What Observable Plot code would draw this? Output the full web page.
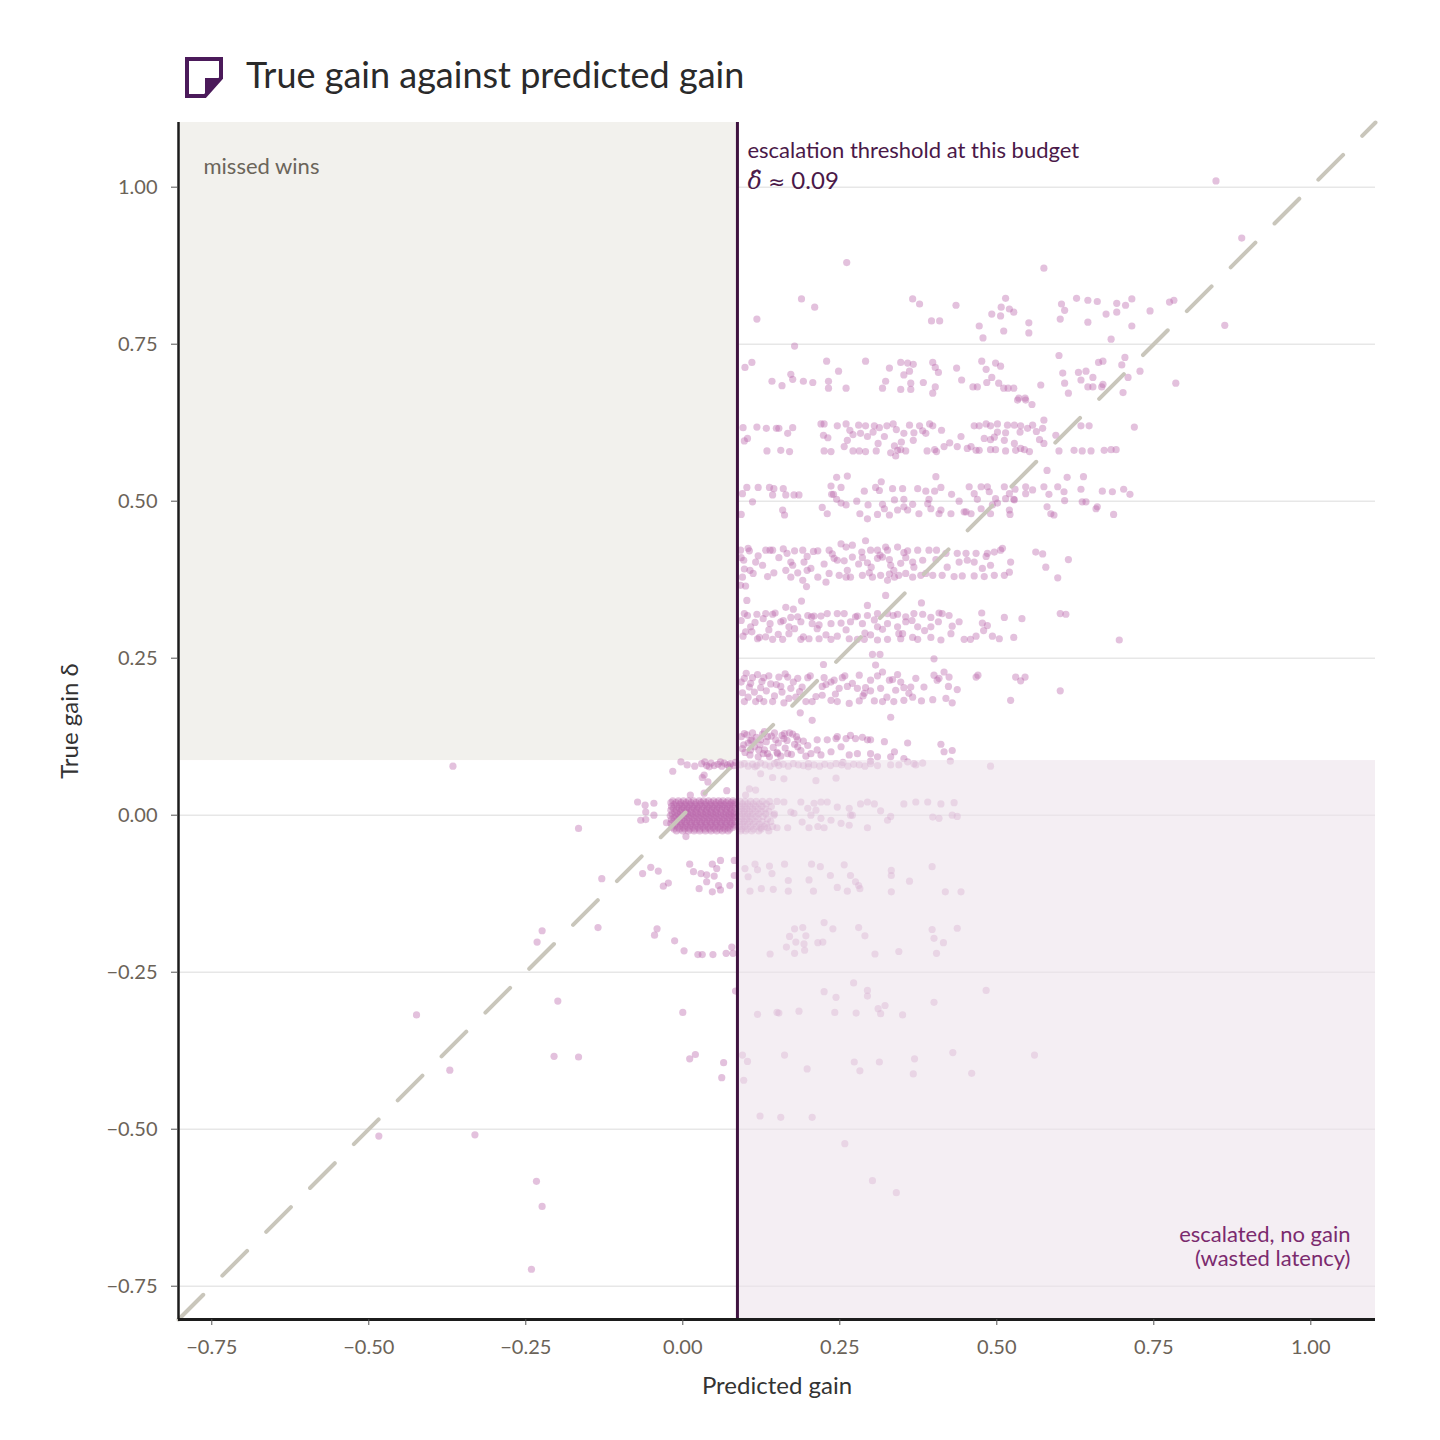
<!DOCTYPE html>
<html><head><meta charset="utf-8">
<script src="https://cdn.jsdelivr.net/npm/d3@7"></script>
<script src="https://cdn.jsdelivr.net/npm/@observablehq/plot@0.6"></script>
<style>
body{margin:0;background:#fff;font-family:Lato,"Noto Sans",sans-serif;}
#head{display:block}
</style></head><body>
<svg id="head" width="1440" height="110" xmlns="http://www.w3.org/2000/svg">
  <path d="M187,59 H221 V78 L205,96 H187 Z" fill="none" stroke="#4b1a5a" stroke-width="4" stroke-linejoin="miter"/>
  <path d="M221,78 L205,78 L205,96 Z" fill="#4b1a5a"/>
  <text id="title" x="246" y="88" font-family="Lato, sans-serif" font-size="36" fill="#2a2a2a">True gain against predicted gain</text>
</svg>
<div id="chart"></div>
<script>
// ---------- axis ticks / annotation values ----------
const xTicks = [-0.75, -0.5, -0.25, 0, 0.25, 0.5, 0.75, 1.0];
const yTicks = [-0.75, -0.5, -0.25, 0, 0.25, 0.5, 0.75, 1.0];
const threshold = 0.087;
const axisMin = -0.803, axisMax = 1.103;
const regionMissed = [{x1: axisMin, x2: threshold, y1: threshold, y2: axisMax}];
const regionWasted = [{x1: threshold, x2: axisMax, y1: axisMin, y2: threshold}];
const diagonal = [[axisMin, axisMin], [axisMax, axisMax]];

// ---------- points [predicted gain, true gain] ----------
const band80 = [[0.849,1.01],[0.89,0.919],[0.261,0.88],[0.575,0.871],[0.118,0.79],[0.189,0.822],[0.21,0.809],[0.178,0.747],[0.366,0.822],[0.377,0.814],[0.396,0.787],[0.409,0.787],[0.435,0.812],[0.472,0.779],[0.478,0.76],[0.492,0.798],[0.506,0.795],[0.507,0.809],[0.514,0.823],[0.52,0.806],[0.527,0.801],[0.511,0.771],[0.551,0.784],[0.551,0.768],[0.601,0.79],[0.603,0.814],[0.608,0.804],[0.627,0.823],[0.645,0.82],[0.645,0.785],[0.66,0.818],[0.674,0.798],[0.682,0.758],[0.691,0.815],[0.691,0.801],[0.705,0.812],[0.715,0.822],[0.715,0.779],[0.744,0.803],[0.775,0.817],[0.782,0.82],[0.863,0.78]];

const band70 = [[0.099,0.713],[0.11,0.721],[0.142,0.691],[0.158,0.684],[0.172,0.702],[0.175,0.694],[0.192,0.691],[0.207,0.689],[0.229,0.723],[0.232,0.691],[0.232,0.68],[0.248,0.707],[0.26,0.68],[0.291,0.723],[0.318,0.68],[0.323,0.691],[0.329,0.712],[0.347,0.721],[0.347,0.678],[0.352,0.701],[0.358,0.72],[0.361,0.707],[0.363,0.688],[0.363,0.678],[0.367,0.718],[0.383,0.689],[0.398,0.672],[0.398,0.721],[0.402,0.713],[0.402,0.682],[0.407,0.705],[0.436,0.712],[0.444,0.693],[0.462,0.682],[0.469,0.682],[0.476,0.723],[0.483,0.71],[0.484,0.689],[0.492,0.697],[0.498,0.72],[0.503,0.688],[0.506,0.715],[0.511,0.68],[0.518,0.68],[0.527,0.68],[0.535,0.664],[0.545,0.664],[0.57,0.685],[0.599,0.732],[0.605,0.704],[0.608,0.688],[0.614,0.672],[0.63,0.705],[0.634,0.693],[0.642,0.707],[0.645,0.682],[0.653,0.682],[0.653,0.697],[0.662,0.721],[0.669,0.723],[0.667,0.682],[0.669,0.686],[0.699,0.717],[0.704,0.729],[0.709,0.697],[0.701,0.673],[0.728,0.707],[0.785,0.688],[0.533,0.661],[0.546,0.661],[0.556,0.654]];

const band60 = [[0.096,0.617],[0.098,0.596],[0.118,0.618],[0.133,0.616],[0.149,0.616],[0.153,0.616],[0.175,0.617],[0.167,0.608],[0.103,0.6],[0.22,0.623],[0.225,0.623],[0.224,0.605],[0.231,0.601],[0.246,0.62],[0.26,0.623],[0.262,0.597],[0.266,0.613],[0.271,0.606],[0.28,0.621],[0.283,0.608],[0.291,0.62],[0.294,0.603],[0.303,0.61],[0.305,0.62],[0.311,0.592],[0.313,0.617],[0.321,0.603],[0.325,0.62],[0.335,0.623],[0.337,0.588],[0.34,0.614],[0.348,0.594],[0.352,0.608],[0.361,0.621],[0.367,0.597],[0.368,0.609],[0.377,0.62],[0.382,0.612],[0.387,0.608],[0.393,0.623],[0.398,0.62],[0.412,0.613],[0.416,0.587],[0.425,0.593],[0.437,0.587],[0.443,0.603],[0.459,0.587],[0.464,0.62],[0.472,0.62],[0.48,0.6],[0.483,0.623],[0.49,0.598],[0.49,0.62],[0.496,0.602],[0.501,0.623],[0.501,0.61],[0.512,0.597],[0.514,0.609],[0.517,0.621],[0.528,0.592],[0.528,0.621],[0.537,0.61],[0.538,0.62],[0.549,0.616],[0.557,0.621],[0.563,0.611],[0.568,0.598],[0.573,0.616],[0.575,0.629],[0.575,0.592],[0.594,0.605],[0.634,0.62],[0.647,0.62],[0.719,0.618],
[0.134,0.58],[0.156,0.581],[0.17,0.579],[0.225,0.58],[0.236,0.579],[0.257,0.587],[0.271,0.58],[0.281,0.58],[0.291,0.579],[0.308,0.58],[0.331,0.577],[0.339,0.572],[0.342,0.581],[0.347,0.582],[0.355,0.58],[0.389,0.58],[0.401,0.582],[0.404,0.579],[0.453,0.584],[0.467,0.581],[0.472,0.581],[0.49,0.582],[0.498,0.582],[0.514,0.58],[0.53,0.581],[0.538,0.584],[0.544,0.582],[0.552,0.579],[0.599,0.58],[0.623,0.581],[0.636,0.58],[0.65,0.58],[0.671,0.581],[0.682,0.582],[0.69,0.582]];

const band50 = [[0.245,0.538],[0.262,0.54],[0.316,0.531],[0.403,0.539],[0.102,0.522],[0.12,0.522],[0.138,0.522],[0.143,0.51],[0.145,0.52],[0.16,0.52],[0.164,0.51],[0.177,0.51],[0.185,0.51],[0.236,0.524],[0.237,0.511],[0.252,0.522],[0.289,0.516],[0.307,0.522],[0.313,0.517],[0.334,0.52],[0.35,0.52],[0.374,0.52],[0.387,0.516],[0.401,0.516],[0.093,0.479],[0.095,0.512],[0.111,0.499],[0.159,0.486],[0.162,0.478],[0.222,0.49],[0.23,0.48],[0.24,0.511],[0.245,0.503],[0.252,0.497],[0.26,0.494],[0.277,0.5],[0.282,0.48],[0.295,0.494],[0.294,0.472],[0.31,0.479],[0.318,0.495],[0.321,0.488],[0.329,0.478],[0.337,0.502],[0.342,0.486],[0.352,0.503],[0.352,0.491],[0.358,0.486],[0.366,0.495],[0.376,0.48],[0.39,0.496],[0.392,0.503],[0.395,0.488],[0.408,0.48],
[0.411,0.522],[0.428,0.511],[0.456,0.523],[0.464,0.512],[0.475,0.523],[0.485,0.523],[0.488,0.515],[0.498,0.504],[0.512,0.523],[0.52,0.512],[0.529,0.519],[0.527,0.503],[0.546,0.523],[0.546,0.512],[0.557,0.518],[0.575,0.523],[0.583,0.511],[0.597,0.523],[0.607,0.515],[0.608,0.501],[0.634,0.519],[0.636,0.499],[0.642,0.499],[0.668,0.516],[0.684,0.515],[0.702,0.519],[0.712,0.511],[0.58,0.549],[0.612,0.538],[0.638,0.539],
[0.411,0.486],[0.427,0.48],[0.451,0.483],[0.459,0.48],[0.475,0.488],[0.49,0.48],[0.493,0.494],[0.52,0.486],[0.521,0.479],[0.58,0.491],[0.586,0.48],[0.591,0.478],[0.658,0.488],[0.66,0.491],[0.686,0.479],[0.44,0.5],[0.448,0.483],[0.469,0.503],[0.501,0.497],[0.514,0.504],[0.528,0.502]];

const band40 = [[0.092,0.422],[0.106,0.421],[0.132,0.422],[0.139,0.422],[0.143,0.422],[0.166,0.417],[0.178,0.421],[0.191,0.422],[0.215,0.421],[0.233,0.422],[0.238,0.416],[0.252,0.432],[0.26,0.427],[0.27,0.43],[0.285,0.419],[0.291,0.437],[0.299,0.422],[0.31,0.422],[0.314,0.414],[0.323,0.427],[0.326,0.422],[0.342,0.427],[0.352,0.418],[0.358,0.421],[0.374,0.422],[0.392,0.422],[0.404,0.422],
[0.097,0.406],[0.116,0.403],[0.172,0.403],[0.175,0.398],[0.198,0.412],[0.193,0.403],[0.241,0.409],[0.246,0.406],[0.257,0.405],[0.27,0.411],[0.286,0.41],[0.294,0.402],[0.31,0.409],[0.318,0.411],[0.329,0.407],[0.331,0.398],[0.347,0.401],[0.366,0.403],[0.368,0.395],[0.382,0.406],[0.403,0.407],
[0.095,0.379],[0.092,0.366],[0.107,0.39],[0.145,0.386],[0.164,0.39],[0.172,0.379],[0.183,0.386],[0.191,0.374],[0.198,0.39],[0.204,0.393],[0.215,0.379],[0.228,0.371],[0.233,0.385],[0.249,0.382],[0.26,0.379],[0.267,0.379],[0.286,0.382],[0.297,0.386],[0.302,0.379],[0.315,0.382],[0.326,0.374],[0.329,0.384],[0.337,0.379],[0.344,0.382],[0.355,0.385],[0.366,0.379],[0.379,0.382],[0.387,0.385],[0.398,0.382],[0.1,0.365],[0.197,0.364],
[0.419,0.417],[0.437,0.417],[0.451,0.417],[0.467,0.417],[0.483,0.412],[0.485,0.417],[0.496,0.419],[0.506,0.422],[0.509,0.425],[0.522,0.403],[0.52,0.387],[0.562,0.419],[0.573,0.416],[0.578,0.395],[0.614,0.407],[0.597,0.378],[0.421,0.395],[0.44,0.403],[0.453,0.406],[0.464,0.403],[0.432,0.38],[0.445,0.381],[0.464,0.381],[0.48,0.38],[0.496,0.382],[0.512,0.382],[0.49,0.398],[0.413,0.382],[0.477,0.393],
[0.093,0.41],[0.098,0.392],[0.104,0.425],[0.112,0.385],[0.12,0.413],[0.127,0.398],[0.135,0.38],[0.153,0.41],[0.16,0.424],[0.208,0.42],[0.225,0.4],[0.262,0.39],[0.28,0.4],[0.3,0.395],[0.336,0.39],[0.355,0.41]];

const band30 = [[0.098,0.321],[0.118,0.32],[0.132,0.321],[0.143,0.32],[0.172,0.315],[0.183,0.316],[0.199,0.318],[0.209,0.317],[0.22,0.317],[0.23,0.321],[0.246,0.321],[0.257,0.321],[0.278,0.317],[0.294,0.318],[0.31,0.321],[0.326,0.321],[0.342,0.32],[0.355,0.316],[0.368,0.321],[0.382,0.32],[0.395,0.315],[0.408,0.322],
[0.108,0.3],[0.139,0.305],[0.156,0.308],[0.169,0.3],[0.188,0.308],[0.206,0.305],[0.217,0.303],[0.236,0.305],[0.252,0.306],[0.267,0.308],[0.286,0.305],[0.305,0.311],[0.31,0.3],[0.326,0.305],[0.342,0.3],[0.355,0.308],[0.374,0.3],[0.395,0.3],[0.407,0.308],
[0.1,0.292],[0.119,0.281],[0.132,0.284],[0.143,0.28],[0.159,0.28],[0.169,0.289],[0.188,0.28],[0.201,0.281],[0.217,0.281],[0.236,0.28],[0.246,0.285],[0.265,0.281],[0.278,0.28],[0.289,0.28],[0.299,0.287],[0.31,0.279],[0.326,0.28],[0.344,0.289],[0.347,0.281],[0.366,0.283],[0.374,0.28],[0.395,0.283],
[0.102,0.342],[0.164,0.331],[0.189,0.341],[0.176,0.328],[0.294,0.334],[0.323,0.35],[0.38,0.338],[0.302,0.256],[0.314,0.256],[0.307,0.239],[0.4,0.249],[0.224,0.24],
[0.413,0.321],[0.424,0.318],[0.44,0.308],[0.429,0.301],[0.427,0.289],[0.411,0.279],[0.448,0.28],[0.458,0.28],[0.467,0.285],[0.476,0.322],[0.477,0.306],[0.485,0.302],[0.479,0.294],[0.493,0.285],[0.504,0.281],[0.512,0.315],[0.527,0.283],[0.54,0.313],[0.601,0.321],[0.61,0.32],[0.695,0.279],
[0.093,0.31],[0.096,0.285],[0.103,0.318],[0.11,0.292],[0.115,0.307],[0.122,0.283],[0.128,0.313],[0.137,0.295],[0.147,0.322],[0.152,0.288],[0.16,0.31],[0.178,0.297],[0.192,0.284],[0.205,0.316],[0.214,0.297],[0.228,0.287],[0.26,0.295],[0.275,0.316],[0.29,0.29],[0.318,0.296],[0.335,0.318],[0.35,0.289],[0.365,0.31],[0.385,0.294]];

const band20 = [[0.098,0.218],[0.111,0.219],[0.129,0.219],[0.153,0.22],[0.167,0.22],[0.183,0.218],[0.199,0.219],[0.225,0.219],[0.241,0.215],[0.254,0.219],[0.281,0.223],[0.299,0.215],[0.318,0.228],[0.334,0.216],[0.347,0.212],[0.371,0.218],[0.4,0.223],[0.408,0.218],
[0.106,0.204],[0.124,0.203],[0.14,0.209],[0.156,0.205],[0.172,0.202],[0.19,0.204],[0.222,0.205],[0.236,0.212],[0.249,0.202],[0.262,0.205],[0.278,0.202],[0.291,0.203],[0.299,0.198],[0.329,0.215],[0.339,0.199],[0.352,0.203],[0.363,0.204],[0.384,0.204],[0.405,0.215],[0.315,0.202],
[0.098,0.181],[0.116,0.181],[0.129,0.181],[0.143,0.181],[0.161,0.179],[0.18,0.188],[0.196,0.181],[0.206,0.181],[0.222,0.191],[0.236,0.183],[0.246,0.181],[0.265,0.178],[0.281,0.182],[0.289,0.194],[0.305,0.182],[0.318,0.181],[0.336,0.181],[0.352,0.183],[0.366,0.188],[0.38,0.182],[0.398,0.184],
[0.331,0.156],[0.187,0.163],[0.206,0.151],
[0.416,0.228],[0.424,0.22],[0.423,0.205],[0.437,0.2],[0.419,0.186],[0.429,0.179],[0.467,0.22],[0.47,0.223],[0.53,0.22],[0.538,0.214],[0.545,0.22],[0.601,0.198],[0.522,0.183],
[0.093,0.212],[0.095,0.195],[0.101,0.226],[0.104,0.188],[0.108,0.21],[0.114,0.196],[0.119,0.224],[0.122,0.186],[0.126,0.213],[0.133,0.198],[0.137,0.222],[0.146,0.19],[0.149,0.208],[0.158,0.196],[0.163,0.225],[0.169,0.186],[0.176,0.212],[0.186,0.197],[0.203,0.222],[0.212,0.189],[0.228,0.208],[0.243,0.193],[0.258,0.222],[0.27,0.21],[0.287,0.19],[0.31,0.222],[0.325,0.188],[0.342,0.224],[0.36,0.194]];

const band10 = [[0.098,0.13],[0.108,0.119],[0.124,0.12],[0.135,0.125],[0.148,0.12],[0.161,0.122],[0.175,0.129],[0.183,0.12],[0.199,0.111],[0.214,0.12],[0.23,0.12],[0.244,0.122],[0.26,0.122],[0.275,0.122],[0.294,0.12],[0.299,0.12],[0.321,0.117],[0.358,0.115],[0.337,0.101],[0.411,0.113],[0.416,0.101],[0.429,0.103],
[0.095,0.106],[0.108,0.104],[0.121,0.104],[0.135,0.098],[0.151,0.098],[0.167,0.098],[0.183,0.109],[0.204,0.098],[0.22,0.096],[0.236,0.101],[0.252,0.109],[0.265,0.096],[0.278,0.098],[0.299,0.098],[0.31,0.093],[0.331,0.093],[0.352,0.09],[0.214,0.104],
[0.13,0.133],[0.246,0.125],[0.267,0.127],[0.286,0.124],
[0.093,0.125],[0.097,0.112],[0.102,0.128],[0.104,0.115],[0.107,0.096],[0.111,0.131],[0.114,0.109],[0.117,0.124],[0.12,0.093],[0.123,0.112],[0.127,0.129],[0.13,0.104],[0.133,0.117],[0.138,0.093],[0.141,0.126],[0.144,0.108],[0.146,0.131],[0.152,0.115],[0.156,0.094],[0.158,0.127],[0.163,0.107],[0.166,0.119],[0.17,0.131],[0.173,0.097],[0.178,0.113],[0.181,0.125],[0.188,0.103],[0.192,0.118],[0.196,0.094],[0.099,0.1],[0.11,0.12],[0.128,0.098],[0.15,0.1],[0.162,0.13]];

const band08 = [[-0.366,0.078],[-0.003,0.085],[0.007,0.08],[0.019,0.078],[0.03,0.082],[0.038,0.079],[0.045,0.083],[0.05,0.079],[0.056,0.081],[0.062,0.078],[0.066,0.083],[0.071,0.08],[0.076,0.082],[0.081,0.079],[0.084,0.084],[0.042,0.077],[0.06,0.085],[0.074,0.077],[0.035,0.085],
[0.092,0.08],[0.098,0.082],[0.104,0.078],[0.111,0.081],[0.118,0.079],[0.124,0.083],[0.131,0.08],[0.139,0.078],[0.146,0.082],[0.153,0.079],[0.16,0.081],[0.168,0.078],[0.176,0.082],[0.184,0.08],[0.192,0.079],[0.2,0.082],[0.209,0.08],[0.218,0.078],[0.226,0.081],[0.235,0.079],[0.244,0.082],[0.253,0.08],[0.263,0.078],[0.272,0.081],[0.281,0.08],[0.29,0.078],[0.299,0.082],[0.31,0.079],[0.331,0.08],[0.344,0.08],[0.368,0.082],[0.382,0.083],[0.371,0.08],[0.426,0.086],[0.299,0.086],[0.358,0.085],[0.115,0.077],[0.15,0.084],[0.2,0.077],[0.255,0.084],[0.49,0.078],
[0.124,0.066],[0.143,0.06],[0.161,0.058],[0.212,0.055],[0.244,0.059],[0.106,0.042],[0.116,0.04],[0.1,0.032],
[-0.016,0.07],[0.034,0.064],[0.04,0.053],[0.031,0.06],[0.07,0.039],[0.034,0.035]];

// dense block around zero gain, left of the threshold: [true gain, predicted gains]
const blobLeftRows = [
[0.023,[-0.016,-0.007,0.001,0.009,0.017,0.026,0.033,0.041,0.049,0.057,0.064,0.072,0.080]],
[0.020,[-0.019,-0.011,-0.003,0.005,0.013,0.021,0.029,0.037,0.045,0.053,0.061,0.069,0.077,0.083]],
[0.017,[-0.014,-0.005,0.003,0.011,0.019,0.027,0.035,0.043,0.051,0.059,0.066,0.074,0.081]],
[0.014,[-0.018,-0.009,-0.001,0.007,0.015,0.023,0.031,0.039,0.047,0.055,0.063,0.071,0.079]],
[0.011,[-0.015,-0.006,0.002,0.010,0.018,0.025,0.034,0.042,0.050,0.058,0.067,0.075,0.083]],
[0.008,[-0.019,-0.010,-0.002,0.006,0.014,0.022,0.030,0.038,0.046,0.054,0.062,0.070,0.078]],
[0.005,[-0.013,-0.004,0.004,0.012,0.020,0.028,0.036,0.044,0.052,0.060,0.068,0.076,0.082]],
[0.002,[-0.017,-0.008,0.000,0.008,0.016,0.024,0.032,0.040,0.048,0.056,0.065,0.073,0.080]],
[-0.001,[-0.020,-0.011,-0.003,0.005,0.013,0.021,0.029,0.037,0.045,0.053,0.061,0.069,0.077,0.083]],
[-0.004,[-0.014,-0.006,0.002,0.010,0.018,0.026,0.034,0.042,0.050,0.058,0.066,0.074,0.081]],
[-0.007,[-0.018,-0.009,-0.001,0.007,0.015,0.023,0.031,0.039,0.047,0.055,0.063,0.071,0.079]],
[-0.010,[-0.015,-0.005,0.003,0.011,0.019,0.027,0.035,0.043,0.051,0.059,0.067,0.075,0.083]],
[-0.013,[-0.019,-0.010,-0.002,0.006,0.014,0.022,0.030,0.038,0.046,0.054,0.062,0.070,0.078]],
[-0.016,[-0.013,-0.004,0.004,0.012,0.020,0.028,0.036,0.044,0.052,0.060,0.068,0.076,0.082]],
[-0.019,[-0.017,-0.008,0.000,0.008,0.016,0.024,0.032,0.040,0.048,0.056,0.064,0.072,0.080]],
[-0.022,[-0.014,-0.005,0.003,0.011,0.019,0.027,0.035,0.043,0.051,0.059,0.067,0.075]],
[-0.025,[-0.010,0.000,0.009,0.018,0.027,0.036,0.045,0.054,0.063,0.072]]];

// dense block around zero gain, just right of the threshold
const blobRightRows = [
[0.022,[0.091,0.099,0.108,0.117,0.127,0.138,0.15]],
[0.018,[0.095,0.103,0.112,0.122,0.133]],
[0.014,[0.091,0.099,0.107,0.116,0.126,0.141]],
[0.010,[0.094,0.102,0.111,0.12,0.131]],
[0.006,[0.091,0.098,0.106,0.115,0.125,0.137]],
[0.002,[0.095,0.103,0.111,0.121,0.132,0.146]],
[-0.002,[0.091,0.099,0.107,0.117,0.128]],
[-0.006,[0.094,0.102,0.11,0.12,0.135]],
[-0.010,[0.091,0.098,0.106,0.115,0.126,0.14]],
[-0.014,[0.095,0.103,0.112,0.122,0.133]],
[-0.018,[0.091,0.099,0.108,0.118,0.13,0.143]],
[-0.022,[0.094,0.103,0.113,0.125]],
[-0.025,[0.092,0.1,0.11,0.121,0.137]]];

const band00 = [[-0.072,0.021],[-0.06,0.016],[-0.046,0.019],[-0.059,0.005],[-0.059,-0.007],[-0.046,0.0],[-0.026,-0.012],[0.005,-0.034],[-0.067,-0.008],[0.012,0.032],[-0.166,-0.021],
[0.161,0.021],[0.172,0.005],[0.188,0.021],[0.199,0.011],[0.209,0.019],[0.22,0.021],[0.23,0.021],[0.246,0.013],[0.265,0.011],[0.27,0.0],[0.283,0.018],[0.294,0.021],[0.305,0.018],[0.315,0.007],[0.331,-0.002],[0.352,0.018],[0.371,0.021],[0.39,0.021],[0.411,0.018],[0.432,0.02],[0.398,-0.003],[0.408,-0.005],[0.429,0.0],[0.437,-0.002],[0.15,-0.02],[0.167,-0.02],[0.19,-0.011],[0.201,-0.02],[0.215,-0.018],[0.225,-0.02],[0.236,-0.008],[0.252,-0.013],[0.265,-0.016],[0.294,-0.02],[0.326,-0.008],[0.204,0.0],[0.22,-0.005],[0.212,0.008],[0.267,0.0],[0.177,0.003],[0.145,0.0],[0.135,-0.02],[0.124,-0.02]];

const bandNeg = [[-0.129,-0.101],[-0.064,-0.093],[-0.051,-0.083],[-0.039,-0.089],[-0.031,-0.113],[-0.023,-0.108],[0.011,-0.078],[0.017,-0.09],[0.029,-0.093],[0.038,-0.095],[0.047,-0.078],[0.054,-0.085],[0.05,-0.097],[0.06,-0.072],[0.038,-0.106],[0.057,-0.112],[0.026,-0.117],[0.047,-0.122],[0.06,-0.119],[0.075,-0.112],[0.082,-0.096],[0.082,-0.072],
[0.099,-0.085],[0.104,-0.098],[0.115,-0.078],[0.119,-0.087],[0.138,-0.081],[0.142,-0.093],[0.162,-0.078],[0.168,-0.104],[0.205,-0.078],[0.201,-0.103],[0.219,-0.082],[0.235,-0.096],[0.257,-0.079],[0.267,-0.096],[0.275,-0.106],[0.28,-0.112],[0.332,-0.088],[0.332,-0.096],[0.361,-0.105],[0.397,-0.082],[0.107,-0.121],[0.125,-0.117],[0.144,-0.118],[0.168,-0.121],[0.208,-0.121],[0.246,-0.115],[0.262,-0.121],[0.282,-0.117],[0.332,-0.122],[0.418,-0.122],[0.443,-0.122],
[-0.224,-0.184],[-0.232,-0.202],[-0.135,-0.179],[-0.041,-0.181],[-0.045,-0.191],[-0.013,-0.2],[0.002,-0.216],[0.024,-0.222],[0.031,-0.222],[0.048,-0.222],[0.069,-0.22],[0.078,-0.21],[0.08,-0.22],[0.139,-0.221],[0.165,-0.21],[0.17,-0.193],[0.178,-0.181],[0.18,-0.202],[0.191,-0.179],[0.196,-0.192],[0.193,-0.205],[0.194,-0.215],[0.178,-0.22],[0.215,-0.203],[0.223,-0.202],[0.225,-0.171],[0.239,-0.181],[0.28,-0.179],[0.29,-0.192],[0.306,-0.221],[0.344,-0.217],[0.397,-0.182],[0.4,-0.196],[0.415,-0.203],[0.404,-0.22],[0.437,-0.18],
[-0.424,-0.318],[-0.199,-0.296],[0.0,-0.314],[0.084,-0.28],[0.119,-0.317],[0.15,-0.314],[0.153,-0.315],[0.185,-0.312],[0.225,-0.281],[0.244,-0.29],[0.242,-0.314],[0.272,-0.267],[0.276,-0.315],[0.294,-0.279],[0.294,-0.288],[0.311,-0.308],[0.315,-0.316],[0.322,-0.303],[0.35,-0.318],[0.4,-0.298],[0.483,-0.279],
[-0.205,-0.384],[-0.166,-0.385],[0.011,-0.388],[0.02,-0.381],[0.065,-0.394],[0.062,-0.418],[-0.371,-0.406],[0.095,-0.382],[0.103,-0.392],[0.097,-0.422],[0.162,-0.382],[0.198,-0.404],[0.273,-0.393],[0.282,-0.407],[0.313,-0.393],[0.369,-0.388],[0.367,-0.412],[0.43,-0.378],[0.46,-0.411],[0.56,-0.382],
[0.123,-0.479],[0.156,-0.481],[0.206,-0.481],[-0.331,-0.509],[-0.484,-0.511],[0.258,-0.523],[-0.233,-0.583],[-0.224,-0.623],[-0.241,-0.723],[0.302,-0.582],[0.34,-0.601]];

// ---------- build table ----------
const rowsToPairs = rows => rows.flatMap(([y, xs]) => xs.map(x => [x, y]));
const points = [...band80, ...band70, ...band60, ...band50, ...band40, ...band30, ...band20, ...band10,
  ...band08, ...rowsToPairs(blobLeftRows), ...rowsToPairs(blobRightRows), ...band00, ...bandNeg]
  .map(([x, y]) => ({x, y}));

const fmt = d3.format(".2f");
const txt = {text: d => d, lineAnchor: "middle"};
const plot = Plot.plot({
  width: 1440, height: 1330,
  marginTop: 12, marginLeft: 178, marginRight: 65, marginBottom: 121,
  x: {domain: [axisMin, axisMax]},
  y: {domain: [axisMin, axisMax]},
  style: {fontFamily: "Lato, 'Noto Sans', sans-serif", background: "#ffffff", color: "#6b6358", overflow: "visible"},
  marks: [
    Plot.ruleY(yTicks, {stroke: "#e7e7e7", strokeWidth: 1.5}),
    Plot.rect(regionMissed, {x1: "x1", x2: "x2", y1: "y1", y2: "y2", fill: "#f2f1ed"}),
    Plot.dot(points, {x: "x", y: "y", r: 3.6, fill: "#b964aa", fillOpacity: 0.4, stroke: "none"}),
    Plot.rect(regionWasted, {x1: "x1", x2: "x2", y1: "y1", y2: "y2", fill: "#ede3eb", fillOpacity: 0.6}),
    Plot.line(diagonal, {x: d => d[0], y: d => d[1], stroke: "#c9c6bb", strokeWidth: 4, strokeDasharray: "35,27"}),
    Plot.ruleX([threshold], {stroke: "#3f1340", strokeWidth: 3}),
    Plot.ruleX([axisMin], {stroke: "#1c1c1c", strokeWidth: 2.5}),
    Plot.ruleY([axisMin], {stroke: "#1c1c1c", strokeWidth: 3}),
    Plot.axisX({ticks: xTicks, tickFormat: fmt, tickSize: 6, tickPadding: 14, fontSize: 20, stroke: "#555", fill: "#6b6358", label: null}),
    Plot.axisY({ticks: yTicks, tickFormat: fmt, tickSize: 7, tickPadding: 14, fontSize: 20, stroke: "#555", fill: "#6b6358", label: null}),
    Plot.text(["Predicted gain"], {...txt, frameAnchor: "bottom", textAnchor: "middle", dy: 67, fontSize: 24, fill: "#333333"}),
    Plot.text(["True gain δ"], {...txt, frameAnchor: "left", textAnchor: "middle", dx: -108, rotate: -90, fontSize: 24, fill: "#333333"}),
    Plot.text(["missed wins"], {...txt, x: axisMin, frameAnchor: "top", dx: 25, dy: 44, textAnchor: "start", fontSize: 22, fill: "#6b655a"}),
    Plot.text(["escalation threshold at this budget"], {...txt, x: threshold, frameAnchor: "top", dx: 10, dy: 28, textAnchor: "start", fontSize: 22, fill: "#4a1848"}),
    Plot.text(["δ̂ ≈ 0.09"], {...txt, x: threshold, frameAnchor: "top", dx: 10, dy: 59, textAnchor: "start", fontSize: 24, fill: "#4a1848"}),
    Plot.text(["escalated, no gain\n(wasted latency)"], {...txt, frameAnchor: "bottom-right", dx: -25, dy: -73, textAnchor: "end", lineHeight: 1.1, fontSize: 22, fill: "#7b2a6e"})
  ]
});

// italic hatted delta and a full-size approx sign in the threshold annotation
d3.select(plot).selectAll("text").filter(function() { return this.textContent === "δ̂ ≈ 0.09"; })
  .each(function() {
    const t = d3.select(this);
    t.text(null);
    t.append("tspan").attr("font-style", "italic").attr("font-family", "DejaVu Serif").text("δ̂");
    t.append("tspan").attr("font-family", "DejaVu Sans").attr("font-size", 20).text(" ≈ ");
    t.append("tspan").text("0.09");
  });

document.getElementById("chart").appendChild(plot);
</script>
</body></html>
